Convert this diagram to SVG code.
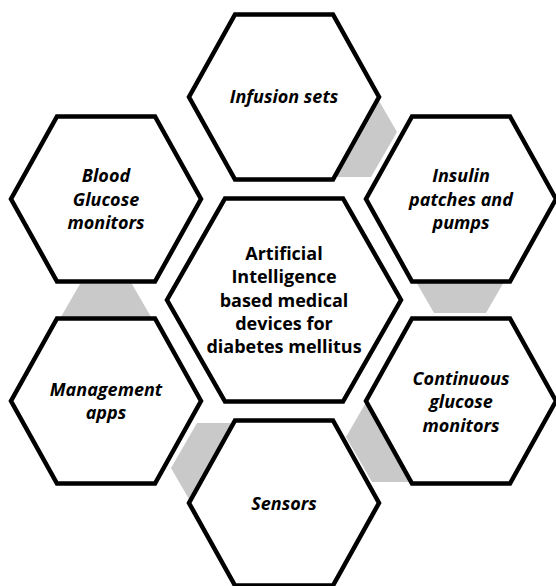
<svg xmlns="http://www.w3.org/2000/svg" width="556" height="586" viewBox="0 0 556 586">
  <style>
    .hex { fill: #ffffff; stroke: #000000; stroke-width: 4.5; stroke-linejoin: miter; }
    .link { fill: #c9c9c9; stroke: none; }
    text { font-family: "Open Sans", "Noto Sans", sans-serif; font-weight: bold; font-size: 18px; fill: #000000; text-anchor: middle; }
    .outer text { font-style: italic; }
  </style>
  <rect width="556" height="586" fill="#ffffff"/>

  <!-- grey hexagons joining neighbouring outer cells (drawn first, partly covered) -->
  <g id="connectors">
    <polygon class="link" points="319,87 371,87 397,132 371,177 319,177 293,132"/>
    <polygon class="link" points="434,223 486,223 512,268 486,313 434,313 408,268"/>
    <polygon class="link" points="372,392 424,392 450,437 424,482 372,482 346,437"/>
    <polygon class="link" points="197,423 249,423 275,468 249,513 197,513 171,468"/>
    <polygon class="link" points="80,284 132,284 158,329 132,374 80,374 54,329"/>
  </g>

  <g class="outer">
    <g id="infusion-sets">
      <polygon class="hex" points="235,14.5 333,14.5 379,97 333,179.5 235,179.5 189,97"/>
      <text x="284" y="103">Infusion sets</text>
    </g>
    <g id="insulin-patches">
      <polygon class="hex" points="412,116.5 510,116.5 556,199 510,281.5 412,281.5 366,199"/>
      <text x="461" y="182">Insulin</text>
      <text x="461" y="205.5">patches and</text>
      <text x="461" y="229">pumps</text>
    </g>
    <g id="continuous-glucose">
      <polygon class="hex" points="412,318.5 510,318.5 556,401 510,483.5 412,483.5 366,401"/>
      <text x="461" y="384.5">Continuous</text>
      <text x="461" y="408">glucose</text>
      <text x="461" y="431.5">monitors</text>
    </g>
    <g id="sensors">
      <polygon class="hex" points="235,420.5 333,420.5 379,503 333,585.5 235,585.5 189,503"/>
      <text x="284" y="509.5">Sensors</text>
    </g>
    <g id="management-apps">
      <polygon class="hex" points="57,318.5 155,318.5 201,401 155,483.5 57,483.5 11,401"/>
      <text x="106" y="395.5">Management</text>
      <text x="106" y="419">apps</text>
    </g>
    <g id="blood-glucose">
      <polygon class="hex" points="57,116.5 155,116.5 201,199 155,281.5 57,281.5 11,199"/>
      <text x="106" y="182">Blood</text>
      <text x="106" y="205.5">Glucose</text>
      <text x="106" y="229">monitors</text>
    </g>
  </g>

  <g id="center">
    <polygon class="hex" points="225,198.5 343,198.5 401,300 343,401.5 225,401.5 167,300"/>
    <text x="284" y="260">Artificial</text>
    <text x="284" y="283.3">Intelligence</text>
    <text x="284" y="306.5">based medical</text>
    <text x="284" y="329.7">devices for</text>
    <text x="284" y="352.9">diabetes mellitus</text>
  </g>
</svg>
